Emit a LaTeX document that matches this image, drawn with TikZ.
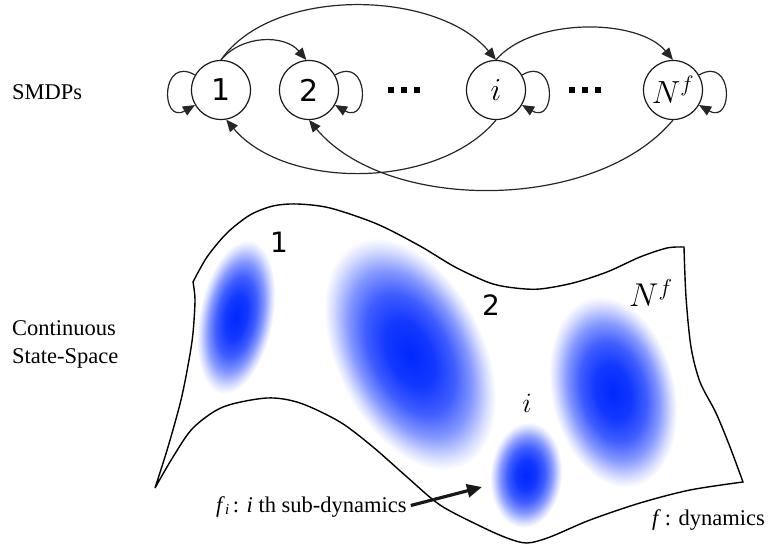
\RequirePackage{fix-cm}
\documentclass[tikz,border=0pt]{standalone}
\usepackage[no-math]{fontspec}
\setmainfont{Liberation Serif}
\newfontfamily\digitfont{DejaVu Sans}
\usetikzlibrary{arrows.meta}
\definecolor{bcore}{RGB}{0,40,255}
\colorlet{bcA}{bcore!93!white}
\colorlet{bcB}{bcore!75!white}
\colorlet{bcC}{bcore!48!white}
\colorlet{bcD}{bcore!15!white}
\pgfdeclareradialshading{blobshade}{\pgfpoint{0bp}{0bp}}{color(0bp)=(bcore); color(7bp)=(bcA); color(13bp)=(bcB); color(18bp)=(bcC); color(22.5bp)=(bcD); color(25bp)=(white); color(50bp)=(white)}
\tikzset{
  stnode/.style={circle, draw=black!90, line width=1.2pt, minimum size=59pt, inner sep=0pt},
  digitlab/.style={font=\digitfont\fontsize{30}{36}\selectfont},
  mathlab/.style={font=\fontsize{32}{38}\selectfont},
  arr/.style={draw=black!85, line width=1.2pt, -{Triangle[length=12pt,width=10pt]}},
  outline/.style={draw=black, line width=1.4pt, line join=miter},
  serif/.style={inner sep=0pt, font=\fontsize{22.5}{27}\selectfont},
  bigarr/.style={draw=black!90, line width=3.2pt, -{Triangle[length=15pt,width=13pt]}}
}
\begin{document}
\begin{tikzpicture}[x=1pt,y=1pt]
\useasboundingbox (0,0) rectangle (769,547);

% ---------- top: SMDP graph ----------
\node[serif, anchor=base west] (smdp) at (12,447) {SMDPs};

\node[stnode, digitlab] (n1) at (221,457) {1};
\node[stnode, digitlab] (n2) at (309,457) {2};
\node[stnode, mathlab] (ni) at (496,457) {$i$};
\node[stnode, mathlab] (nN) at (673,457) {$N^f$};
\node[inner sep=0pt] (dots1) at (403.5,457) {\rule{6pt}{6pt}\hspace{7pt}\rule{6pt}{6pt}\hspace{7pt}\rule{6pt}{6pt}};
\node[inner sep=0pt] (dots2) at (584.5,457) {\rule{6pt}{6pt}\hspace{7pt}\rule{6pt}{6pt}\hspace{7pt}\rule{6pt}{6pt}};

\draw[arr] (n1.north) to[out=50,in=130] (n2.95);
\draw[arr] (n1.north) to[out=55,in=130,looseness=0.85] (ni.north);
\draw[arr] (ni.north) to[out=50,in=130,looseness=0.8] (nN.north);
\draw[arr] (ni.south) to[out=-130,in=-50,looseness=0.87] (n1.-80);
\draw[arr] (nN.south) to[out=-130,in=-50,looseness=0.85] (n2.south);

\draw[arr] (n1.150) .. controls +(150:40) and +(210:40) .. (n1.210);
\draw[arr] (n2.30) .. controls +(30:40) and +(-30:40) .. (n2.-30);
\draw[arr] (ni.30) .. controls +(30:40) and +(-30:40) .. (ni.-30);
\draw[arr] (nN.30) .. controls +(30:40) and +(-30:40) .. (nN.-30);

% ---------- bottom: continuous state space ----------
\node[serif, anchor=base west] (css) at (12,211) {\begin{tabular}[t]{@{}l@{}}Continuous\\State-Space\end{tabular}};

\begin{scope}[transform canvas={shift={(236,230)}, rotate=-11}]
  \shade[shading=blobshade] (0,0) ellipse (37 and 78);
\end{scope}
\begin{scope}[transform canvas={shift={(410,193)}, rotate=26}]
  \shade[shading=blobshade] (0,0) ellipse (74 and 124);
\end{scope}
\begin{scope}[transform canvas={shift={(526,72)}, rotate=-5}]
  \shade[shading=blobshade] (0,0) ellipse (36 and 53);
\end{scope}
\begin{scope}[transform canvas={shift={(613,155)}, rotate=13}]
  \shade[shading=blobshade] (0,0) ellipse (62 and 97);
\end{scope}

\draw[outline]
  plot[smooth, tension=0.5] coordinates {(193,265) (207,290) (227,314) (250,332) (273,341) (297,343) (330,339) (377,323) (420,301) (455,280) (490,264) (515,259) (540,258) (573,264) (607,275) (640,290) (667,299) (684,300)}
  -- plot[smooth, tension=0.5] coordinates {(684,300) (686,250) (691,200) (700,165) (716,134) (730,100) (743,65)}
  -- plot[smooth, tension=0.5] coordinates {(743,65) (690,57) (640,44) (590,27) (550,10) (527,4) (507,9) (480,21) (440,42) (407,70) (373,100) (340,125) (300,144) (267,149) (223,140) (193,119) (173,90) (155,59)}
  -- plot[smooth, tension=0.5] coordinates {(155,59) (168,100) (181,147) (189,187) (193,214) (195,247) (193,265)}
  -- cycle;

\node[digitlab, font=\digitfont\fontsize{28}{34}\selectfont, anchor=base, inner sep=0pt] (lab1) at (279,294) {1};
\node[digitlab, font=\digitfont\fontsize{28}{34}\selectfont, anchor=base, inner sep=0pt] (lab2) at (491,231) {2};
\node[font=\fontsize{28}{34}\selectfont, anchor=base, inner sep=0pt] (labi) at (527,135) {$i$};
\node[font=\fontsize{33}{40}\selectfont, anchor=base west, inner sep=0pt] (labN) at (629,240) {$N^f$};

\node[serif, anchor=base west] (subtxt) at (216,35) {\textit{f}\raisebox{-2pt}{\fontsize{15}{15}\selectfont\itshape i}\,: \textit{i} th sub-dynamics};
\coordinate (arrtip) at (482,60);
\draw[bigarr, shorten <=4pt] (subtxt.east) -- (arrtip);

\node[serif, anchor=base west] (dyn) at (652,22) {\textit{f}\,: dynamics};
\end{tikzpicture}
\end{document}
